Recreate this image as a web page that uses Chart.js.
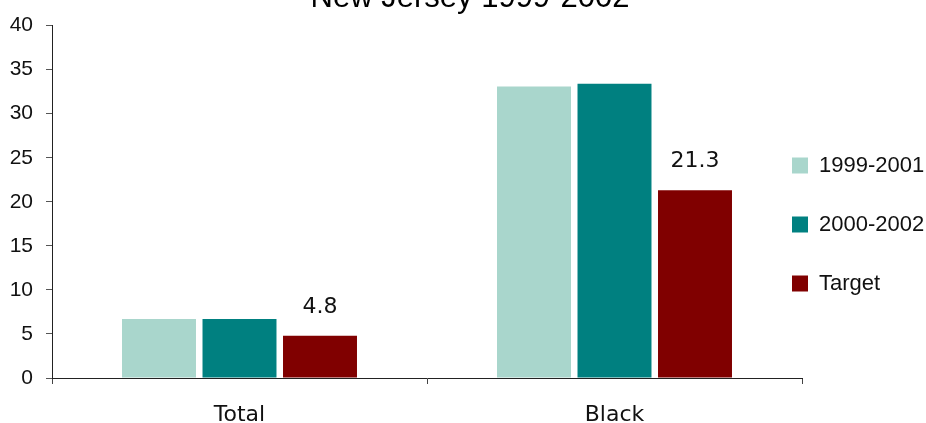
<!DOCTYPE html>
<html>
<head>
<meta charset="utf-8">
<script src="https://cdn.jsdelivr.net/npm/chart.js@4"></script>
<style>
  html, body { margin: 0; padding: 0; background: #fff; }
  #wrap { width: 926px; height: 423px; }
</style>
</head>
<body>
<div id="wrap"><canvas id="bar"></canvas></div>
<script>
// data
const categories = ['Total', 'Black'];
const series1999 = [6.7, 33.1];
const series2000 = [6.7, 33.4];
const seriesTarget = [4.8, 21.3];
const yTicks = [0, 5, 10, 15, 20, 25, 30, 35, 40];

const ctx = document.getElementById('bar').getContext('2d');

// title sits above the visible area, only its lower part shows
const titlePlugin = {
    id: 'cutTitle',
    afterDraw(chart) {
        const c = chart.ctx;
        c.save();
        c.font = '31px "Liberation Sans", Arial, sans-serif';
        c.fillStyle = '#000';
        c.textAlign = 'center';
        c.textBaseline = 'alphabetic';
        c.fillText('New Jersey 1999-2002', 470, 7);
        c.restore();
    }
};

// value labels only on the Target bars
const valueLabels = {
    id: 'valueLabels',
    afterDatasetsDraw(chart) {
        const c = chart.ctx;
        const meta = chart.getDatasetMeta(2);
        c.save();
        c.font = '22px "DejaVu Sans", sans-serif';
        c.fillStyle = '#111';
        c.textAlign = 'center';
        c.textBaseline = 'alphabetic';
        meta.data.forEach((el, i) => {
            c.fillText(seriesTarget[i].toFixed(1), el.x, el.y - 23);
        });
        c.restore();
    }
};

// nudge the legend over the plot's right edge like the original
const legendShift = {
    id: 'legendShift',
    afterLayout(chart) {
        const lg = chart.legend;
        lg.left -= 47;
        lg.right = chart.width;
        lg.top += 2;
        lg.bottom += 2;
    }
};

let chart1 = new Chart(ctx, {
    type: 'bar',
    data: {
        labels: categories,
        datasets: [{
            label: '1999-2001',
            data: series1999,
            backgroundColor: '#A9D6CC',
            borderWidth: 0,
        }, {
            label: '2000-2002',
            data: series2000,
            backgroundColor: '#008080',
            borderWidth: 0,
        }, {
            label: 'Target',
            data: seriesTarget,
            backgroundColor: '#800000',
            borderWidth: 0,
        }],
    },
    options: {
        responsive: true,
        maintainAspectRatio: false,
        animation: false,
        categoryPercentage: 0.644,
        barPercentage: 0.919,
        layout: {
            padding: { top: 22, left: 0, right: 0, bottom: 0 },
        },
        scales: {
            x: {
                grid: {
                    display: true,
                    offset: true,
                    drawOnChartArea: false,
                    drawTicks: true,
                    tickLength: 6,
                    color: '#444',
                },
                border: { display: true, color: '#222', width: 1 },
                ticks: {
                    color: '#111',
                    padding: 18,
                    font: { family: '"DejaVu Sans", sans-serif', size: 22 },
                },
                afterFit(scale) { scale.height = 45; },
            },
            y: {
                min: 0,
                max: 40,
                afterBuildTicks(scale) {
                    scale.ticks = yTicks.map(v => ({ value: v }));
                },
                grid: {
                    display: true,
                    drawOnChartArea: false,
                    drawTicks: true,
                    tickLength: 6,
                    color: '#555',
                },
                border: { display: true, color: '#222', width: 1 },
                ticks: {
                    color: '#111',
                    padding: 13,
                    font: { family: '"Liberation Sans", Arial, sans-serif', size: 21 },
                },
                afterFit(scale) { scale.width = 52; },
            },
        },
        plugins: {
            title: { display: false },
            tooltip: { enabled: false },
            legend: {
                display: true,
                position: 'right',
                maxWidth: 124,
                labels: {
                    boxWidth: 16,
                    boxHeight: 16,
                    padding: 37,
                    color: '#111',
                    font: { family: '"Liberation Sans", Arial, sans-serif', size: 22 },
                },
            },
        },
    },
    plugins: [titlePlugin, valueLabels, legendShift],
});
</script>
</body>
</html>
